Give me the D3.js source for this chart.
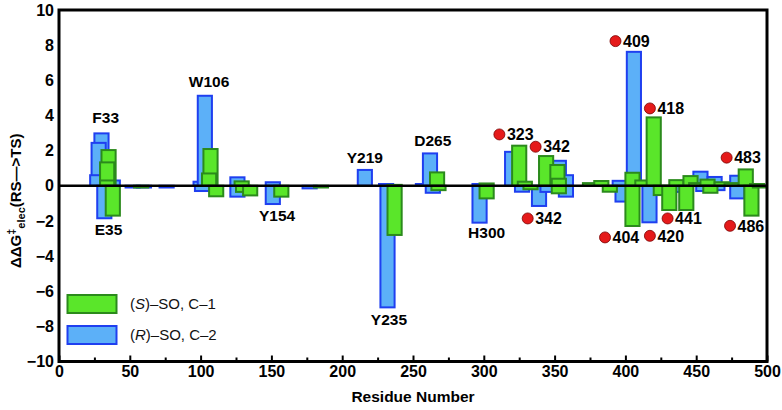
<!DOCTYPE html>
<html><head><meta charset="utf-8">
<script src="https://cdn.jsdelivr.net/npm/d3@7"></script>
<style>body{margin:0;background:#fff}svg{display:block}</style>
</head><body>
<svg id="c" width="782" height="410"></svg>
<script>
// ---- data ----
const xTicks = [0,50,100,150,200,250,300,350,400,450,500];
const xMinorTicks = [25,75,125,175,225,275,325,375,425,475];
const yTicks = [-10,-8,-6,-4,-2,0,2,4,6,8,10];
// (R)-SO, C-2 : residue centre, ΔΔG
const rResidue = [30,28,27,32,38,52,60,76,100,101,103,126,126,151,151,177,216,231,232,257,262,264,297,297,320,327,339,345,353,358,358,396,398,406,417,438,453,455,463,465,479,479];
const rValue   = [2.98,2.44,0.6,-1.85,0.3,-0.1,-0.1,-0.1,0.23,-0.3,5.12,0.48,-0.62,0.2,-1.04,-0.15,0.9,0.1,-6.92,0.1,1.84,-0.4,-2.1,0.1,1.93,-0.34,-1.15,-0.35,1.42,0.6,-0.62,0.28,-0.9,7.62,-2.08,-0.35,0.8,-0.3,0.5,-0.25,0.57,-0.72];
// (S)-SO, C-1
const sResidue = [35,34,34,38,58,107,106,111,129,130,135,157,185,237,237,267,268,302,302,325,329,333,344,352,353,353,375,383,389,405,405,412,420,425,431,436,443,446,450,458,460,468,475,485,489,493,495];
const sValue   = [2.03,1.33,0.3,-1.7,-0.1,2.09,0.7,-0.6,0.25,-0.35,-0.55,-0.62,-0.1,-2.8,0.05,0.76,-0.25,-0.72,0.13,2.28,0.23,-0.2,1.69,1.18,0.4,-0.43,0.15,0.27,-0.34,0.74,-2.29,0.3,3.89,-0.53,-1.38,0.32,-1.38,0.55,0.15,0.35,-0.4,0.2,0.15,0.93,-1.7,0.1,-0.1];
// residue labels
const resLabels = ["F33","E35","W106","Y154","Y219","Y235","D265","H300"];
const resLabelX = [33,35,106,154,216,233,264,302];
const resLabelY = [3.55,-2.8,5.6,-2.0,1.3,-7.9,2.27,-2.95];
// red-dot annotations
const dotLabels = ["323","342","409","418","483","342","404","420","441","486"];
const dotX = [311,336.6,393,417.3,471.5,331,385.6,417.3,429.8,473.9];
const dotY = [2.92,2.22,8.23,4.4,1.6,-1.86,-2.94,-2.85,-1.86,-2.28];
const legendLabels = [["(","S",")–SO, C–1"],["(","R",")–SO, C–2"]];

// ---- drawing ----
const svg = d3.select("#c");
const x = d3.scaleLinear().domain([0,500]).range([59,767]);
const y = d3.scaleLinear().domain([-10,10]).range([361.5,10]);
const barSpan = 10; // residues
const blueFill="#5cb0f8", blueStroke="#1f3ff0", greenFill="#5ae62a", greenStroke="#2b8a1c";
const font = "'Liberation Sans', Arial, Helvetica, sans-serif";

function bars(res, val, fill, stroke){
  svg.append("g").selectAll("rect").data(res.map((r,i)=>({r,v:val[i]}))).join("rect")
    .attr("x", d=>x(d.r-barSpan/2)).attr("width", d=>x(d.r+barSpan/2)-x(d.r-barSpan/2))
    .attr("y", d=>Math.min(y(d.v),y(0))).attr("height", d=>Math.abs(y(d.v)-y(0)))
    .attr("fill", fill).attr("stroke", stroke).attr("stroke-width", 2);
}
bars(rResidue, rValue, blueFill, blueStroke);
bars(sResidue, sValue, greenFill, greenStroke);

// zero line
svg.append("line").attr("x1",x(0)).attr("x2",x(500)).attr("y1",y(0)).attr("y2",y(0))
  .attr("stroke","#000").attr("stroke-width",2.5);

// axes
const xAxis = svg.append("g").attr("transform",`translate(0,${y(-10)})`)
  .call(d3.axisBottom(x).tickValues(xTicks).tickSize(-6).tickPadding(4).tickFormat(d3.format("d")));
const xMinor = svg.append("g").attr("transform",`translate(0,${y(-10)})`)
  .call(d3.axisBottom(x).tickValues(xMinorTicks).tickSize(-4).tickFormat(""));
const yAxis = svg.append("g").attr("transform",`translate(${x(0)},0)`)
  .call(d3.axisLeft(y).tickValues(yTicks).tickSize(0).tickPadding(5));
[xAxis,xMinor,yAxis].forEach(g=>{
  g.select(".domain").remove();
  g.selectAll("line").attr("stroke","#000").attr("stroke-width",2);
  g.selectAll("text").attr("font-family",font).attr("font-size",16).attr("font-weight","bold").attr("fill","#000");
});

// frame
svg.append("rect").attr("x",x(0)).attr("y",y(10)).attr("width",x(500)-x(0)).attr("height",y(-10)-y(10))
  .attr("fill","none").attr("stroke","#000").attr("stroke-width",3);

// residue labels
svg.append("g").selectAll("text").data(resLabels).join("text")
  .attr("x",(d,i)=>x(resLabelX[i])).attr("y",(d,i)=>y(resLabelY[i]))
  .attr("text-anchor","middle").attr("font-family",font).attr("font-size",15.5).attr("font-weight","bold")
  .text(d=>d);

// red dots
const dg = svg.append("g").selectAll("g").data(dotLabels).join("g")
  .attr("transform",(d,i)=>`translate(${x(dotX[i])},${y(dotY[i])})`);
dg.append("circle").attr("r",5.5).attr("fill","#e51a1a").attr("stroke","#7a0000").attr("stroke-width",0.8);
dg.append("text").attr("x",7.5).attr("dy","0.36em").attr("font-family",font).attr("font-size",16)
  .attr("font-weight","bold").text(d=>d);

// legend
const leg = svg.append("g");
[[greenFill,greenStroke],[blueFill,blueStroke]].forEach((c,i)=>{
  leg.append("rect").attr("x",67.5).attr("y",295+i*31).attr("width",49).attr("height",18)
    .attr("fill",c[0]).attr("stroke",c[1]).attr("stroke-width",2);
  const t = leg.append("text").attr("x",130).attr("y",309+i*31).attr("font-family",font).attr("font-size",15).attr("fill","#111");
  t.append("tspan").text(legendLabels[i][0]);
  t.append("tspan").attr("font-style","italic").text(legendLabels[i][1]);
  t.append("tspan").text(legendLabels[i][2]);
});

// axis titles
svg.append("text").attr("x",413).attr("y",402).attr("text-anchor","middle")
  .attr("font-family",font).attr("font-size",15.5).attr("font-weight","bold").text("Residue Number");
const yl = svg.append("text").attr("transform","translate(21,268) rotate(-90)").attr("text-anchor","start")
  .attr("font-family",font).attr("font-size",15).attr("font-weight","bold");
yl.append("tspan").text("ΔΔG");
yl.append("tspan").attr("dy",-6).attr("font-size",11).text("‡");
yl.append("tspan").attr("dy",10).attr("font-size",11).text("elec");
yl.append("tspan").attr("dy",-4).text("(RS—>TS)");
</script>
</body></html>
